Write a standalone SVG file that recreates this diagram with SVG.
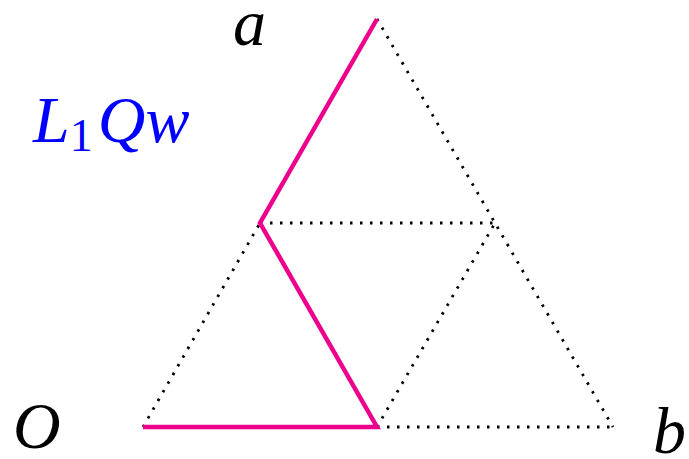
<svg xmlns="http://www.w3.org/2000/svg" width="689" height="459" viewBox="0 0 689 459">
<style>
.dot{fill:none;stroke:#000;stroke-width:2.8;stroke-dasharray:2.5 7.5}
.pk{fill:none;stroke:#ec008c;stroke-width:4.5;stroke-linejoin:miter}
.lb{font-family:"Liberation Serif",serif;font-style:italic;font-size:66px;fill:#000}
</style>
<g id="connectors">
<path class="dot" d="M143,427 L260,223"/>
<path class="dot" d="M260,223 L495,223"/>
<path class="dot" d="M377,19 L613,427"/>
<path class="dot" d="M377,427 L495,223"/>
<path class="dot" d="M377,427 L613,427"/>
<path class="pk" d="M143,427 L377,427 L260,223 L377,19"/>
</g>
<g id="label-a"><text class="lb" x="233" y="45">a</text></g>
<g id="label-O"><text class="lb" x="13" y="448">O</text></g>
<g id="label-b"><text class="lb" x="653" y="453">b</text></g>
<g id="title"><text class="lb" x="33" y="142" style="fill:#0000ff">L<tspan font-size="46" font-style="normal" dx="0" dy="9">1</tspan><tspan dx="5" dy="-9">Qw</tspan></text></g>
</svg>
